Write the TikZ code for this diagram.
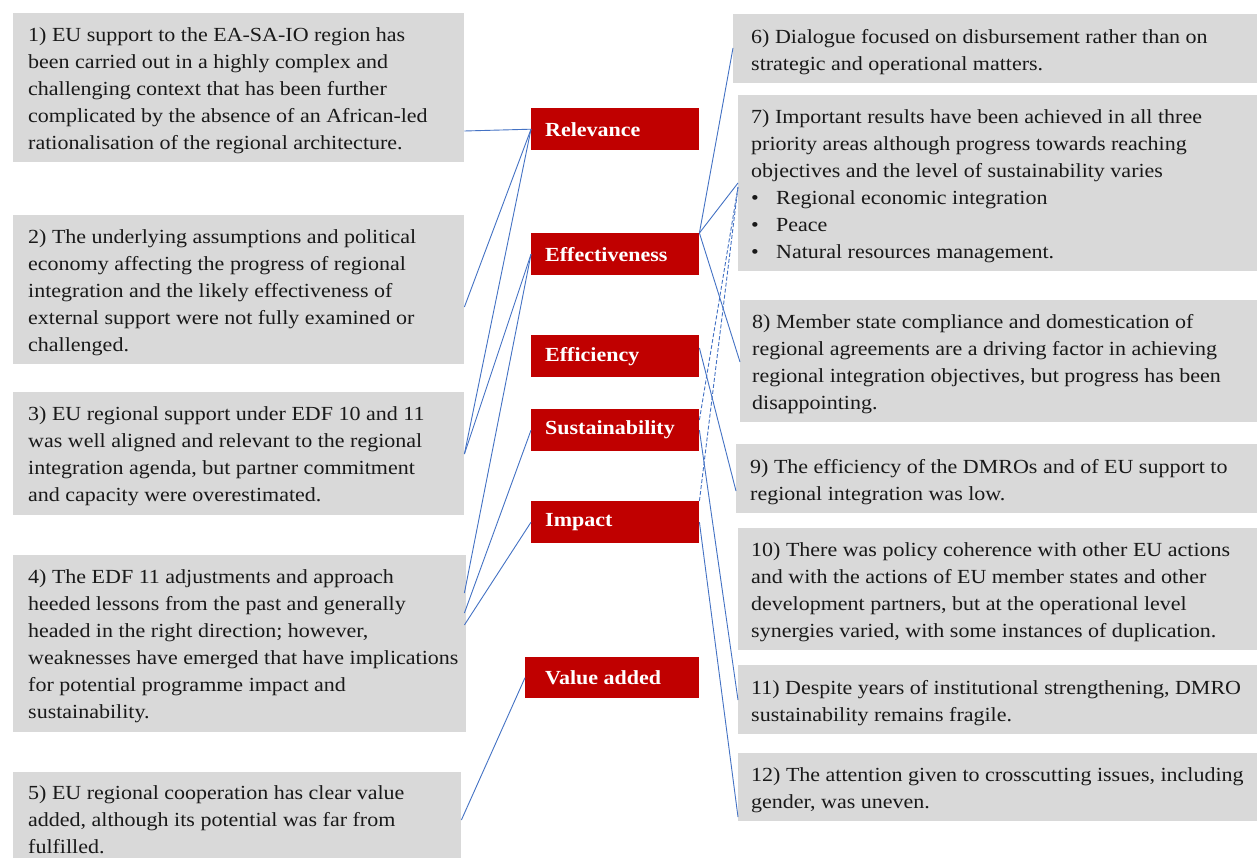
\documentclass[tikz,border=0pt]{standalone}
\usepackage{fontspec}
\setmainfont{Liberation Serif}[FakeStretch=1.1]
\usetikzlibrary{calc}
\definecolor{boxgray}{HTML}{D9D9D9}
\definecolor{lblred}{HTML}{C00000}
\definecolor{linkblue}{HTML}{4472C4}
\begin{document}
\begin{tikzpicture}[x=1pt,y=-1pt,
 gbox/.style={fill=boxgray, draw=none, anchor=north west, inner sep=0pt},
 txt/.style={anchor=west, align=left, inner sep=0pt, yshift=-3pt, font=\fontsize{20}{27}\selectfont, text=black!90},
 rbox/.style={fill=lblred, draw=none, anchor=north west, inner sep=0pt, minimum height=42pt, minimum width=168pt},
 lbl/.style={anchor=west, inner sep=0pt, text=white, font=\fontsize{20}{24}\selectfont\bfseries},
 link/.style={draw=linkblue, line width=0.9pt},
 dlink/.style={link, dash pattern=on 4pt off 2pt}]
\path[use as bounding box, fill=white] (0,0) rectangle (1257,858);

% left boxes
\node[gbox, minimum width=451pt, minimum height=149pt] (b1) at (13,13) {};
\node[gbox, minimum width=451pt, minimum height=149pt] (b2) at (13,215) {};
\node[gbox, minimum width=451pt, minimum height=123pt] (b3) at (13,392) {};
\node[gbox, minimum width=453pt, minimum height=177pt] (b4) at (13,555) {};
\node[gbox, minimum width=448pt, minimum height=96pt] (b5) at (13,772) {};

\node[txt] (t1) at ($(b1.west)+(15,0)$) {1) EU support to the EA-SA-IO region has\\been carried out in a highly complex and\\challenging context that has been further\\complicated by the absence of an African-led\\rationalisation of the regional architecture.};
\node[txt] (t2) at ($(b2.west)+(15,0)$) {2) The underlying assumptions and political\\economy affecting the progress of regional\\integration and the likely effectiveness of\\external support were not fully examined or\\challenged.};
\node[txt] (t3) at ($(b3.west)+(15,0)$) {3) EU regional support under EDF 10 and 11\\was well aligned and relevant to the regional\\integration agenda, but partner commitment\\and capacity were overestimated.};
\node[txt] (t4) at ($(b4.west)+(15,0)$) {4) The EDF 11 adjustments and approach\\heeded lessons from the past and generally\\headed in the right direction; however,\\weaknesses have emerged that have implications\\for potential programme impact and\\sustainability.};
\node[txt, yshift=4pt] (t5) at ($(b5.west)+(15,0)$) {5) EU regional cooperation has clear value\\added, although its potential was far from\\fulfilled.};

% red labels
\node[rbox] (rel) at (531,108) {};
\node[rbox] (eff) at (531,233) {};
\node[rbox] (effi) at (531,335) {};
\node[rbox] (sus) at (531,409) {};
\node[rbox] (imp) at (531,501) {};
\node[rbox, minimum width=174pt, minimum height=41pt] (val) at (525,657) {};
\node[lbl] (lrel) at ($(rel.west)+(14,0)$) {Relevance};
\node[lbl] (leff) at ($(eff.west)+(14,0)$) {Effectiveness};
\node[lbl] (leffi) at ($(effi.west)+(14,0)$) {Efficiency};
\node[lbl] (lsus) at ($(sus.west)+(14,0)$) {Sustainability};
\node[lbl] (limp) at ($(imp.west)+(14,0)$) {Impact};
\node[lbl] (lval) at ($(val.west)+(20,0)$) {Value added};

% right boxes
\node[gbox, minimum width=540pt, minimum height=69pt] (b6) at (733,14) {};
\node[gbox, minimum width=540pt, minimum height=176pt] (b7) at (738,95) {};
\node[gbox, minimum width=540pt, minimum height=122pt] (b8) at (740,300) {};
\node[gbox, minimum width=540pt, minimum height=69pt] (b9) at (736,444) {};
\node[gbox, minimum width=540pt, minimum height=122pt] (b10) at (738,528) {};
\node[gbox, minimum width=540pt, minimum height=69pt] (b11) at (738,665) {};
\node[gbox, minimum width=540pt, minimum height=68pt] (b12) at (738,753) {};

\node[txt] (t6) at ($(b6.west)+(18,0)$) {6) Dialogue focused on disbursement rather than on\\strategic and operational matters.};
\node[txt] (t7) at ($(b7.west)+(13,0)$) {7) Important results have been achieved in all three\\priority areas although progress towards reaching\\objectives and the level of sustainability varies\\\makebox[25pt][l]{\textbullet}Regional economic integration\\\makebox[25pt][l]{\textbullet}Peace\\\makebox[25pt][l]{\textbullet}Natural resources management.};
\node[txt] (t8) at ($(b8.west)+(12,0)$) {8) Member state compliance and domestication of\\regional agreements are a driving factor in achieving\\regional integration objectives, but progress has been\\disappointing.};
\node[txt] (t9) at ($(b9.west)+(14,0)$) {9) The efficiency of the DMROs and of EU support to\\regional integration was low.};
\node[txt] (t10) at ($(b10.west)+(13,0)$) {10) There was policy coherence with other EU actions\\and with the actions of EU member states and other\\development partners, but at the operational level\\synergies varied, with some instances of duplication.};
\node[txt] (t11) at ($(b11.west)+(13,0)$) {11) Despite years of institutional strengthening, DMRO\\sustainability remains fragile.};
\node[txt] (t12) at ($(b12.west)+(13,0)$) {12) The attention given to crosscutting issues, including\\gender, was uneven.};

% left connectors
\draw[link] ($(b1.north east)+(0,118)$) -- (rel.west);
\draw[link] (rel.west) -- ($(b2.north east)+(0,92)$);
\draw[link] (rel.west) -- ($(b3.north east)+(0,62)$);
\draw[link] (eff.west) -- ($(b3.north east)+(0,62)$);
\draw[link] (eff.west) -- ($(b4.north east)+(-2,38)$);
\draw[link] (sus.west) -- ($(b4.north east)+(-2,58)$);
\draw[link] (imp.west) -- ($(b4.north east)+(-2,70)$);
\draw[link] (val.west) -- ($(b5.north east)+(0,48)$);

% right connectors
\draw[link] (eff.north east) -- ($(b6.north west)+(0,34)$);
\draw[link] (eff.north east) -- ($(b7.north west)+(0,88)$);
\draw[link] (eff.north east) -- ($(b8.north west)+(0,62)$);
\draw[link] ($(effi.north east)+(0,13)$) -- ($(b9.north west)+(0,47)$);
\draw[link] (sus.east) -- ($(b11.north west)+(0,35)$);
\draw[link] (imp.east) -- ($(b12.north west)+(0,64)$);
\draw[dlink] ($(sus.north east)+(0,11)$) -- ($(b7.north west)+(0,92)$);
\draw[dlink] (imp.north east) -- ($(b7.north west)+(0,92)$);
\end{tikzpicture}
\end{document}
